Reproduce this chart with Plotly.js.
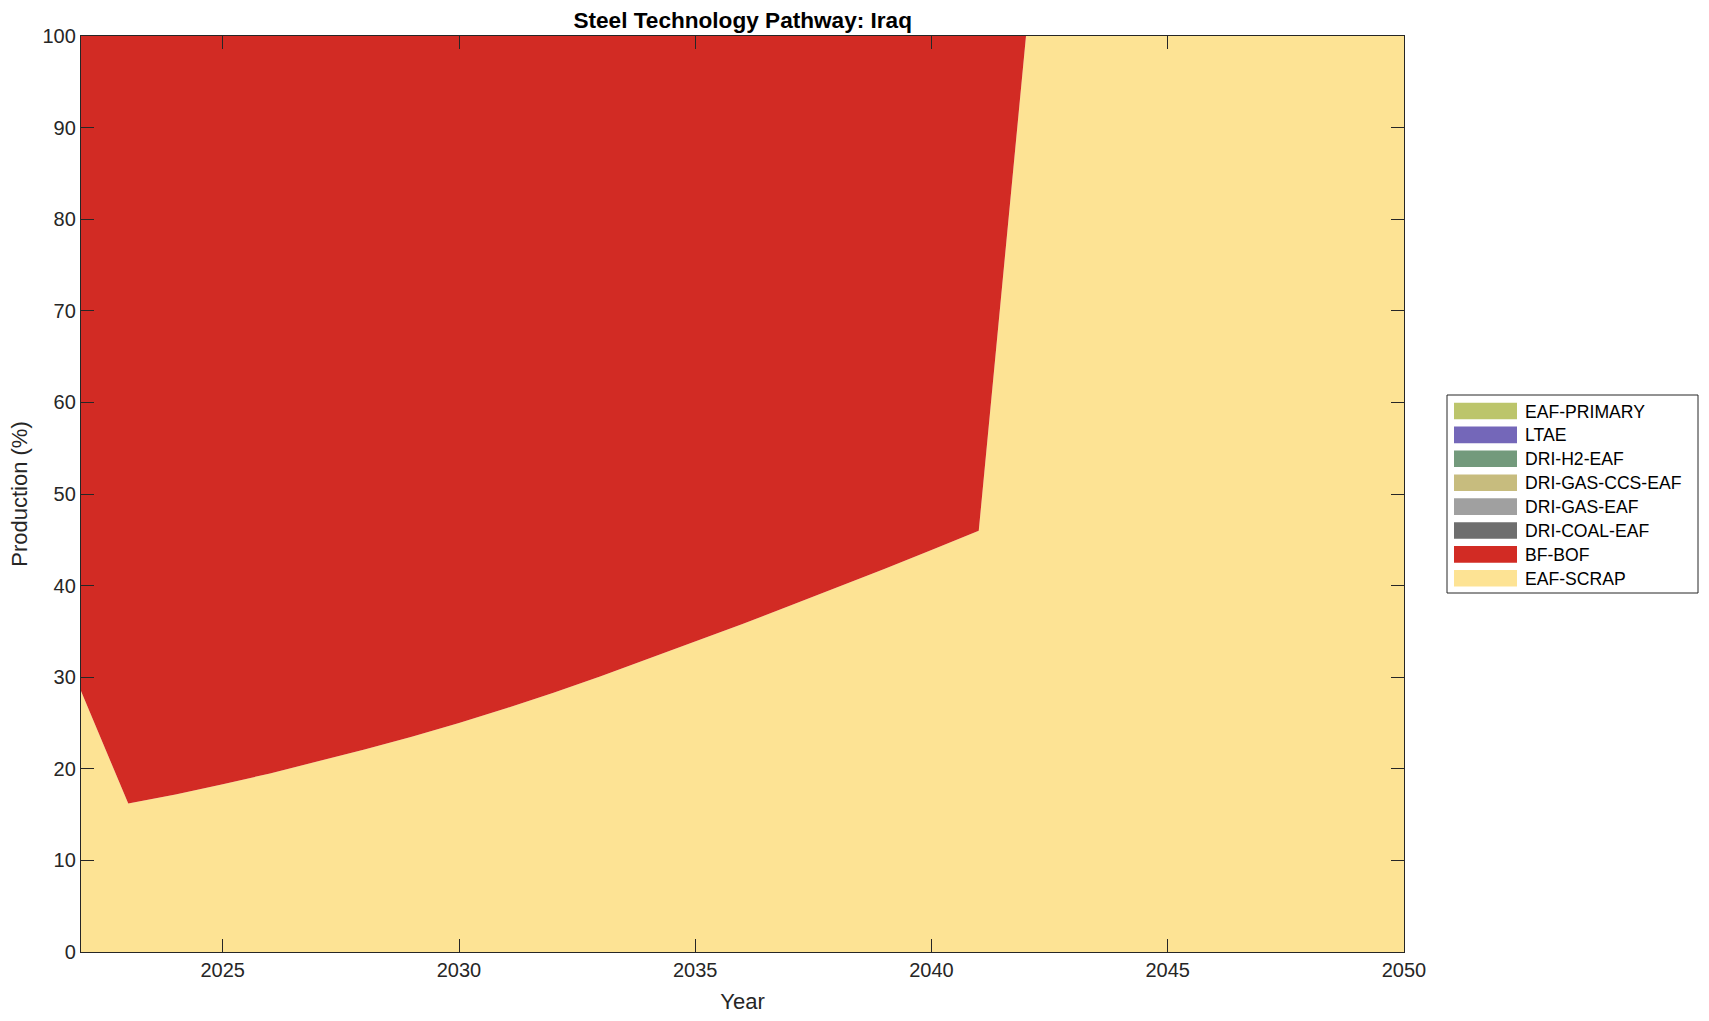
<!DOCTYPE html>
<html>
<head>
<meta charset="utf-8">
<script src="https://cdn.plot.ly/plotly-3.0.1.min.js"></script>
<style>
  html, body { margin: 0; padding: 0; background: #ffffff; }
  #chart { width: 1709px; height: 1021px; }
</style>
</head>
<body>
<div id="chart"></div>
<script>
// ---- Data ----
const years = [2022, 2023, 2024, 2025, 2026, 2027, 2028, 2029, 2030, 2031, 2032, 2033, 2034, 2035,
               2036, 2037, 2038, 2039, 2040, 2041, 2042, 2043, 2044, 2045, 2046, 2047, 2048, 2049, 2050];

const eafScrap = [28.5, 16.2, 17.2, 18.3, 19.5, 20.8, 22.1, 23.5, 25.0, 26.6, 28.3, 30.1, 32.0, 33.9,
                  35.8, 37.8, 39.8, 41.8, 43.9, 46.0, 100, 100, 100, 100, 100, 100, 100, 100, 100];
const bfBof    = [71.5, 83.8, 82.8, 81.7, 80.5, 79.2, 77.9, 76.5, 75.0, 73.4, 71.7, 69.9, 68.0, 66.1,
                  64.2, 62.2, 60.2, 58.2, 56.1, 54.0, 0, 0, 0, 0, 0, 0, 0, 0, 0];
const driCoalEaf   = [0,0,0,0,0,0,0,0,0,0,0,0,0,0,0,0,0,0,0,0,0,0,0,0,0,0,0,0,0];
const driGasEaf    = [0,0,0,0,0,0,0,0,0,0,0,0,0,0,0,0,0,0,0,0,0,0,0,0,0,0,0,0,0];
const driGasCcsEaf = [0,0,0,0,0,0,0,0,0,0,0,0,0,0,0,0,0,0,0,0,0,0,0,0,0,0,0,0,0];
const driH2Eaf     = [0,0,0,0,0,0,0,0,0,0,0,0,0,0,0,0,0,0,0,0,0,0,0,0,0,0,0,0,0];
const ltae         = [0,0,0,0,0,0,0,0,0,0,0,0,0,0,0,0,0,0,0,0,0,0,0,0,0,0,0,0,0];
const eafPrimary   = [0,0,0,0,0,0,0,0,0,0,0,0,0,0,0,0,0,0,0,0,0,0,0,0,0,0,0,0,0];

// stacking order: bottom -> top
const seriesNames  = ["EAF-SCRAP", "BF-BOF", "DRI-COAL-EAF", "DRI-GAS-EAF", "DRI-GAS-CCS-EAF", "DRI-H2-EAF", "LTAE", "EAF-PRIMARY"];
const seriesValues = [eafScrap, bfBof, driCoalEaf, driGasEaf, driGasCcsEaf, driH2Eaf, ltae, eafPrimary];
const seriesColors = ["#FDE394", "#D22B24", "#6E6E6E", "#A0A0A0", "#C7BC7E", "#739A7C", "#7467B9", "#BCC56B"];

const xTicks = [2025, 2030, 2035, 2040, 2045, 2050];
const yTicks = [0, 10, 20, 30, 40, 50, 60, 70, 80, 90, 100];

// ---- Layout geometry ----
const W = 1709, H = 1021;
const M = { l: 81, r: 305, t: 36, b: 69 };
const plotW = W - M.l - M.r, plotH = H - M.t - M.b;
const px2x = p => (p - M.l) / plotW;
const px2y = p => (H - M.b - p) / plotH;

const FONT = "Liberation Sans, Arial, Helvetica, sans-serif";
const TXT = "#262626";

const traces = seriesNames.map((name, i) => ({
  type: "scatter",
  x: years,
  y: seriesValues[i],
  name: name,
  mode: "lines",
  stackgroup: "one",
  line: { width: 0, color: seriesColors[i] },
  fillcolor: seriesColors[i],
  hoverinfo: "x+y+name",
  showlegend: false
}));

// ---- Custom legend (matching MATLAB style) ----
const shapes = [];
const annotations = [];
const legBox = { x0: 1447, x1: 1698, y0: 395, y1: 593 };
shapes.push({
  type: "rect", xref: "paper", yref: "paper",
  x0: px2x(legBox.x0), x1: px2x(legBox.x1), y0: px2y(legBox.y1), y1: px2y(legBox.y0),
  line: { color: TXT, width: 1 }, fillcolor: "#ffffff", layer: "above"
});
const rowStart = 411, rowStep = 23.9;
for (let k = 0; k < seriesNames.length; k++) {
  const idx = seriesNames.length - 1 - k; // top row = top of stack
  const cy = rowStart + k * rowStep;
  shapes.push({
    type: "rect", xref: "paper", yref: "paper",
    x0: px2x(1454), x1: px2x(1517), y0: px2y(cy + 8.3), y1: px2y(cy - 8.3),
    line: { width: 0 }, fillcolor: seriesColors[idx], layer: "above"
  });
  annotations.push({
    xref: "paper", yref: "paper",
    x: px2x(1523), y: px2y(cy + 0.5),
    xanchor: "left", yanchor: "middle",
    text: seriesNames[idx], showarrow: false,
    font: { family: FONT, size: 17.6, color: "#000000" }
  });
}

const layout = {
  width: W, height: H,
  margin: M,
  paper_bgcolor: "#ffffff",
  plot_bgcolor: "#ffffff",
  showlegend: false,
  title: {
    text: "<b>Steel Technology Pathway: Iraq</b>",
    font: { family: FONT, size: 22.6, color: "#000000" },
    x: (px2x(742.7) * plotW + M.l) / W, xanchor: "center",
    y: 1 - 20 / H, yanchor: "middle"
  },
  xaxis: {
    range: [2022, 2050],
    tickvals: xTicks,
    ticktext: xTicks.map(String),
    ticks: "inside", ticklen: 13, tickwidth: 1, tickcolor: TXT,
    showline: true, linecolor: TXT, linewidth: 1.2, mirror: "ticks",
    showgrid: false, zeroline: false,
    tickfont: { family: FONT, size: 20, color: TXT },
    title: { text: "Year", font: { family: FONT, size: 22, color: TXT }, standoff: 13 },
    layer: "above traces"
  },
  yaxis: {
    range: [0, 100],
    tickvals: yTicks,
    ticktext: yTicks.map(String),
    ticks: "inside", ticklen: 13, tickwidth: 1, tickcolor: TXT,
    showline: true, linecolor: TXT, linewidth: 1.2, mirror: "ticks",
    showgrid: false, zeroline: false,
    tickfont: { family: FONT, size: 20, color: TXT },
    title: { text: "Production (%)", font: { family: FONT, size: 22, color: TXT }, standoff: 8 },
    layer: "above traces"
  },
  shapes: shapes,
  annotations: annotations
};

Plotly.newPlot("chart", traces, layout, { displayModeBar: false, staticPlot: true });
</script>
</body>
</html>
